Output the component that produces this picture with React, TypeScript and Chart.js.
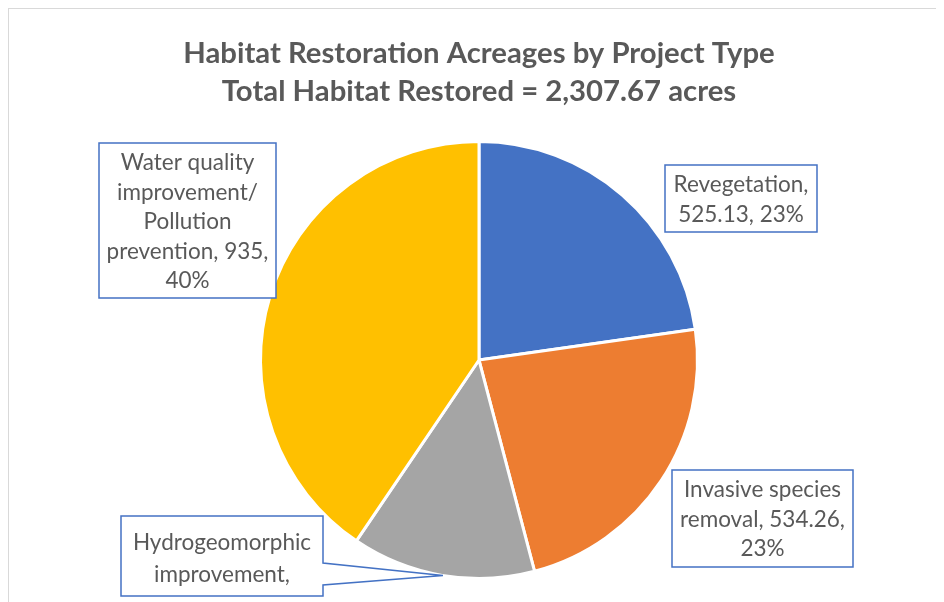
import React, { useEffect, useRef } from "react";
import { Chart, registerables } from "chart.js";

Chart.register(...registerables);

const titleLines = [
  "Habitat Restoration Acreages by Project Type",
  "Total Habitat Restored = 2,307.67 acres",
];
const categories = [
  "Revegetation",
  "Invasive species removal",
  "Hydrogeomorphic improvement",
  "Water quality improvement/ Pollution prevention",
];
const acres = [525.13, 534.26, 313.28, 935];
const valueLabels = ["525.13", "534.26", "313.28", "935"];
const percentLabels = ["23%", "23%", "14%", "40%"];
const sliceColors = ["#4472C4", "#ED7D31", "#A5A5A5", "#FFC000"];
const labelLines = [
  ["Revegetation,", "525.13, 23%"],
  ["Invasive species", "removal, 534.26,", "23%"],
  ["Hydrogeomorphic", "improvement,", "313.28, 14%"],
  ["Water quality", "improvement/", "Pollution", "prevention, 935,", "40%"],
];

const FONT = "Lato, 'Open Sans', sans-serif";
const TEXT = "#595959";

// label boxes, offsets relative to pie center (canvas coords)
const boxes = [
  { dx: 186, dy: -195, w: 152, h: 67, first: 20 },
  { dx: 193, dy: 110, w: 181, h: 97, first: 20 },
  { dx: -358, dy: 156, w: 202, h: 80, first: 27, pointer: true },
  { dx: -380, dy: -217, w: 177, h: 155, first: 20 },
];

const labelPlugin = {
  id: "boxLabels",
  afterDatasetsDraw(chart: any) {
    const ctx = chart.ctx;
    const meta = chart.getDatasetMeta(0);
    const arc0 = meta.data[0];
    const cx = arc0.x;
    const cy = arc0.y;
    const r = arc0.outerRadius;
    ctx.save();
    ctx.font = `22.5px ${FONT}`;
    ctx.textAlign = "center";
    ctx.textBaseline = "middle";
    boxes.forEach((b, i) => {
      const x = cx + b.dx;
      const y = cy + b.dy;
      ctx.beginPath();
      if (b.pointer) {
        const ang = (189.5 * Math.PI) / 180;
        const tx = cx + r * Math.sin(ang);
        const ty = cy - r * Math.cos(ang);
        ctx.moveTo(x, y);
        ctx.lineTo(x + b.w, y);
        ctx.lineTo(x + b.w, y + 47);
        ctx.lineTo(tx, ty);
        ctx.lineTo(x + b.w, y + 69);
        ctx.lineTo(x + b.w, y + b.h);
        ctx.lineTo(x, y + b.h);
        ctx.closePath();
      } else {
        ctx.rect(x, y, b.w, b.h);
      }
      ctx.fillStyle = "#ffffff";
      ctx.fill();
      ctx.strokeStyle = "#4472C4";
      ctx.lineWidth = 1.5;
      ctx.stroke();
      ctx.save();
      ctx.beginPath();
      ctx.rect(x, y, b.w, b.h);
      ctx.clip();
      ctx.fillStyle = TEXT;
      const lines = labelLines[i];
      const lh = b.pointer ? 32 : 29.5;
      lines.forEach((t, j) => {
        ctx.fillText(t, x + b.w / 2, y + b.first + j * lh);
      });
      ctx.restore();
    });
    ctx.restore();
  },
};

export default function App() {
  const ref = useRef<HTMLCanvasElement>(null);
  useEffect(() => {
    if (!ref.current) return;
    const chart = new Chart(ref.current, {
      type: "pie",
      data: {
        labels: categories.map((c, i) => `${c}, ${valueLabels[i]}, ${percentLabels[i]}`),
        datasets: [
          {
            data: acres,
            backgroundColor: sliceColors,
            borderColor: "#ffffff",
            borderWidth: 3,
          },
        ],
      },
      options: {
        responsive: false,
        animation: false,
        layout: { padding: { top: 10, left: 6, right: 0, bottom: 47 } },
        plugins: {
          legend: { display: false },
          tooltip: { enabled: false },
          title: {
            display: true,
            text: titleLines,
            color: TEXT,
            font: { family: FONT, size: 29.3, weight: "bold", lineHeight: 1.287 },
            padding: { top: 16, bottom: 29.6 },
          },
        },
      },
      plugins: [labelPlugin],
    });
    return () => chart.destroy();
  }, []);
  return (
    <div
      style={{
        width: 936,
        height: 620,
        border: "1px solid #d9d9d9",
        boxSizing: "border-box",
        background: "#fff",
      }}
    >
      <canvas ref={ref} width={934} height={618} />
    </div>
  );
}
